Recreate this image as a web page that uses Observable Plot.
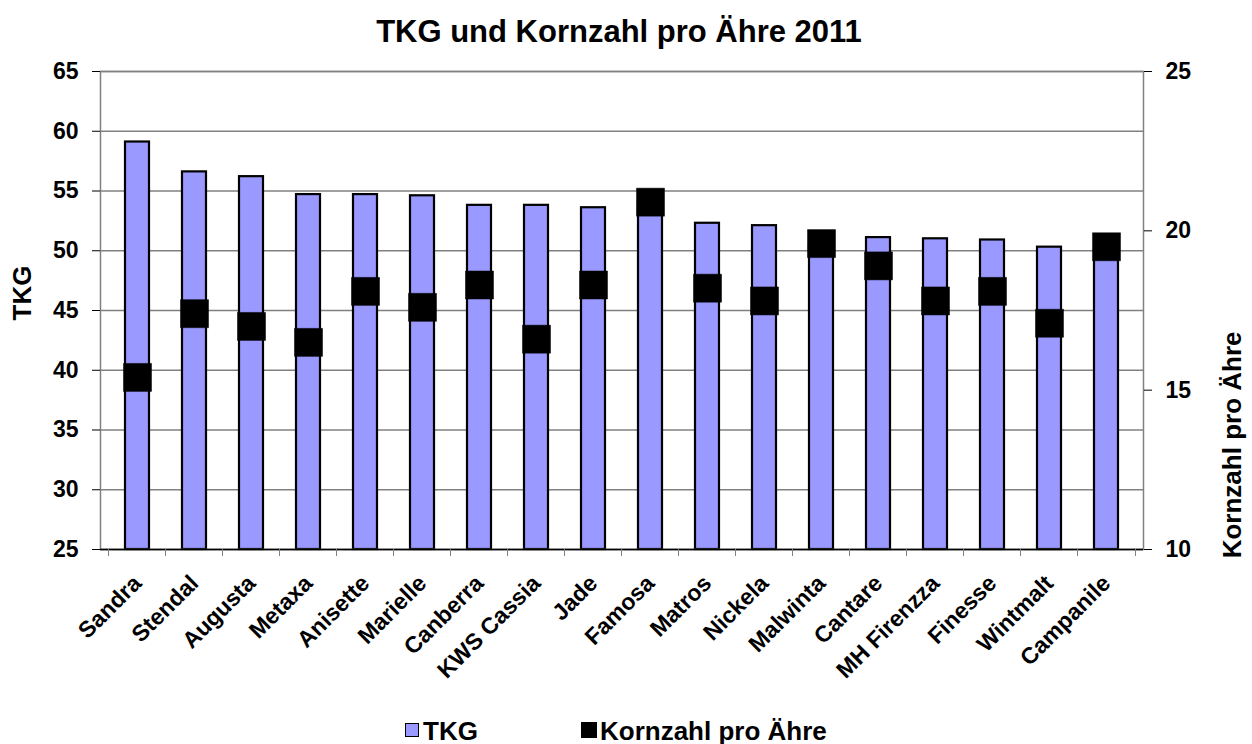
<!DOCTYPE html>
<html>
<head>
<meta charset="utf-8">
<script src="https://cdn.jsdelivr.net/npm/d3@7"></script>
<script src="https://cdn.jsdelivr.net/npm/@observablehq/plot@0.6"></script>
<style>
  body { margin: 0; background: #fff; font-family: "Liberation Sans", Arial, sans-serif; }
  #wrap { position: relative; width: 1252px; height: 744px; }
  #title { position: absolute; left: 0; top: 0; width: 1252px; height: 62px; line-height: 64px;
           text-align: center; font-size: 31px; font-weight: bold; padding-right: 14px; box-sizing: border-box; }
  #chart { position: absolute; left: 0; top: 40px; }
  .leg { position: absolute; top: 714px; font-size: 26px; font-weight: bold; line-height: 34px; white-space: nowrap; }
  .sw { position: absolute; top: 723px; width: 14px; height: 14px; box-sizing: border-box; }
</style>
</head>
<body>
<div id="wrap">
  <div id="chart"></div>
  <div id="title">TKG und Kornzahl pro Ähre 2011</div>
  <div class="sw" style="left:405px; background:#9999FF; border:1.5px solid #000;"></div>
  <div class="leg" style="left:423px;">TKG</div>
  <div class="sw" style="left:581px; width:16px; height:16px; top:722px; background:#000;"></div>
  <div class="leg" style="left:600px;">Kornzahl pro Ähre</div>
</div>
<script>
const sorten = ["Sandra", "Stendal", "Augusta", "Metaxa", "Anisette", "Marielle", "Canberra", "KWS Cassia", "Jade", "Famosa", "Matros", "Nickela", "Malwinta", "Cantare", "MH Firenzza", "Finesse", "Wintmalt", "Campanile"];
const tkg = [59.1, 56.6, 56.2, 54.7, 54.7, 54.6, 53.8, 53.8, 53.6, 54.0, 52.3, 52.1, 50.5, 51.1, 51.0, 50.9, 50.3, 50.1];
const kornzahl = [15.4, 17.4, 17.0, 16.5, 18.1, 17.6, 18.3, 16.6, 18.3, 20.9, 18.2, 17.8, 19.6, 18.9, 17.8, 18.1, 17.1, 19.5];
const leftTicks = [25, 30, 35, 40, 45, 50, 55, 60, 65];
const rightTicks = [10, 15, 20, 25];

const data = sorten.map((s, i) => ({sorte: s, tkg: tkg[i], korn: kornzahl[i]}));

// map right axis (10..25) onto left axis (25..65)
const toLeft = k => 25 + (k - 10) * 40 / 15;
const toRight = t => 10 + (t - 25) * 15 / 40;

const W = 1252, H = 670, mL = 100, mR = 109, mT = 31, mB = 161;
const step = (W - mL - mR) / sorten.length;
const font = {fontSize: 23, fontWeight: "bold", fill: "#000"};

const chart = Plot.plot({
  width: W, height: H,
  marginLeft: mL, marginRight: mR, marginTop: mT, marginBottom: mB,
  style: {fontFamily: "Liberation Sans, Arial, sans-serif", background: "transparent", color: "#000"},
  x: {domain: sorten, paddingInner: 0.585, paddingOuter: 0.2925, label: null, axis: null},
  y: {domain: [25, 65], label: null, axis: null},
  marks: [
    Plot.gridY(leftTicks, {stroke: "#808080", strokeOpacity: 1, strokeWidth: 1.5}),
    Plot.barY(data, {x: "sorte", y1: 25, y2: "tkg", fill: "#9999FF", stroke: "#000", strokeWidth: 2.2}),
    Plot.dot(data, {x: "sorte", y: d => toLeft(d.korn), symbol: "square", r: 15.8, fill: "#000", stroke: "#000", strokeWidth: 0.5}),
    Plot.frame({stroke: "#808080", strokeWidth: 1.5}),
    Plot.ruleY([25], {stroke: "#000", strokeWidth: 1.5}),
    // left axis
    Plot.axisY({anchor: "left", ticks: leftTicks, tickSize: 8, tickPadding: 14, stroke: "#000", ...font, label: null}),
    // right axis
    Plot.axisY({anchor: "right", ticks: rightTicks.map(toLeft), tickFormat: t => String(Math.round(toRight(t))),
                tickSize: 8, tickPadding: 14, stroke: "#000", ...font, label: null}),
    // x boundary ticks
    Plot.axisX({anchor: "bottom", tickSize: 7, tickFormat: () => "", dx: -step / 2, stroke: "#808080", label: null}),
    Plot.axisX({anchor: "bottom", ticks: [sorten[sorten.length - 1]], tickSize: 7, tickFormat: () => "", dx: step / 2, stroke: "#808080", label: null}),
    // x labels
    Plot.axisX({anchor: "bottom", tickSize: 0, tickPadding: 30, tickRotate: -45, dx: 0,
                fontSize: 23, fontWeight: "bold", fill: "#000", label: null}),
    // axis titles
    Plot.text(["TKG"], {frameAnchor: "left", rotate: -90, dx: -78, dy: 10, fontSize: 26, fontWeight: "bold", fill: "#000"}),
    Plot.text(["Kornzahl pro Ähre"], {frameAnchor: "right", rotate: -90, dx: 89, dy: 21, fontSize: 26, fontWeight: "bold", fill: "#000"})
  ]
});
document.getElementById("chart").appendChild(chart);
</script>
</body>
</html>
